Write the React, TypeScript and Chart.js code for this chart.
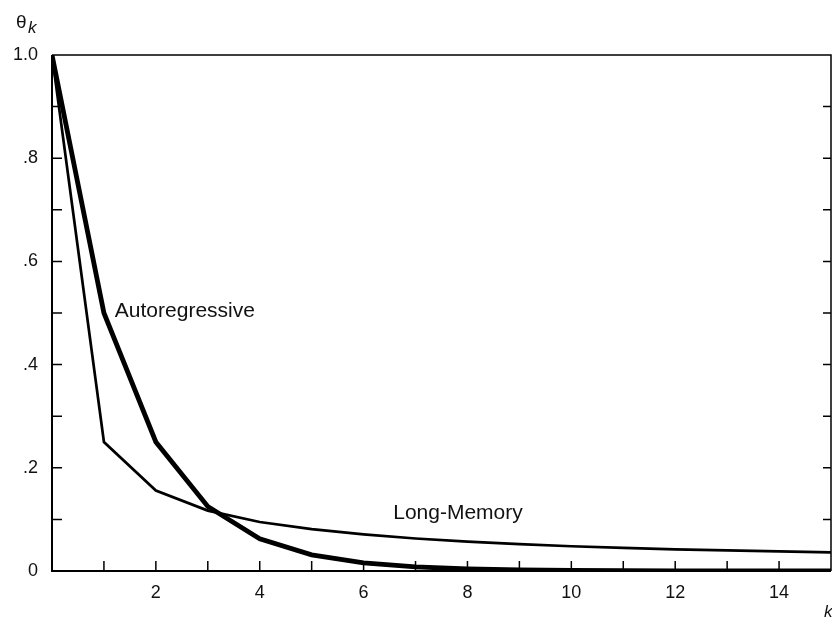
import React, { useEffect, useRef } from "react";
import { Chart, registerables } from "chart.js";

Chart.register(...registerables);

const lags = [0, 1, 2, 3, 4, 5, 6, 7, 8, 9, 10, 11, 12, 13, 14, 15];
const autoregressive = [1, 0.5, 0.25, 0.125, 0.0625, 0.0313, 0.0156, 0.0078, 0.0039, 0.002, 0.001, 0.0005, 0.0002, 0.0001, 0.0001, 0];
const longMemory = [1, 0.25, 0.156, 0.117, 0.095, 0.081, 0.071, 0.063, 0.057, 0.052, 0.048, 0.045, 0.042, 0.04, 0.038, 0.036];
const yTickLabels: Record<string, string> = { "0": "0", "0.2": ".2", "0.4": ".4", "0.6": ".6", "0.8": ".8", "1": "1.0" };
const xTickLabels = [2, 4, 6, 8, 10, 12, 14];
const seriesLabels = [
  { text: "Autoregressive", x: 1.21, y: 0.493 },
  { text: "Long-Memory", x: 6.57, y: 0.1 },
];

const FONT = "'Liberation Sans', Arial, Helvetica, sans-serif";

const framePlugin = {
  id: "frameTicks",
  afterDatasetsDraw(chart: any) {
    const { ctx, chartArea, scales } = chart;
    const { left, right, top, bottom } = chartArea;
    const xs = scales.x;
    const ys = scales.y;
    ctx.save();
    ctx.strokeStyle = "#000";
    ctx.lineCap = "butt";
    ctx.lineWidth = 1.5;
    ctx.beginPath();
    ctx.moveTo(left, top);
    ctx.lineTo(right, top);
    ctx.lineTo(right, bottom);
    ctx.stroke();
    ctx.lineWidth = 2;
    ctx.beginPath();
    ctx.moveTo(left, top);
    ctx.lineTo(left, bottom);
    ctx.lineTo(right, bottom);
    ctx.stroke();
    ctx.lineWidth = 1.5;
    ctx.beginPath();
    for (let k = 1; k < 15; k++) {
      const px = xs.getPixelForValue(k);
      ctx.moveTo(px, bottom);
      ctx.lineTo(px, bottom - 10);
    }
    for (let i = 1; i < 10; i++) {
      const py = ys.getPixelForValue(i / 10);
      ctx.moveTo(left, py);
      ctx.lineTo(left + 10, py);
      ctx.moveTo(right, py);
      ctx.lineTo(right - 8, py);
    }
    ctx.stroke();
    ctx.fillStyle = "#111";
    ctx.font = `21px ${FONT}`;
    ctx.textAlign = "left";
    ctx.textBaseline = "alphabetic";
    for (const l of seriesLabels) {
      ctx.fillText(l.text, xs.getPixelForValue(l.x), ys.getPixelForValue(l.y));
    }
    ctx.font = `19px ${FONT}`;
    ctx.fillText("\u03B8", 16, 28);
    ctx.font = `italic 17px ${FONT}`;
    ctx.fillText("k", 28, 33);
    ctx.fillText("k", 824, 617);
    ctx.restore();
  },
};

export default function App() {
  const ref = useRef<HTMLCanvasElement>(null);
  useEffect(() => {
    document.body.style.margin = "0";
    document.body.style.background = "#fff";
    const chart = new Chart(ref.current as HTMLCanvasElement, {
      type: "line",
      data: {
        labels: lags,
        datasets: [
          {
            label: "Autoregressive",
            data: lags.map((k, i) => ({ x: k, y: autoregressive[i] })),
            borderColor: "#000",
            borderWidth: 4.8,
            pointRadius: 0,
            tension: 0,
          },
          {
            label: "Long-Memory",
            data: lags.map((k, i) => ({ x: k, y: longMemory[i] })),
            borderColor: "#000",
            borderWidth: 2.7,
            pointRadius: 0,
            tension: 0,
          },
        ],
      },
      options: {
        animation: false,
        responsive: false,
        layout: { padding: { top: 55, right: 1, left: 0, bottom: 0 } },
        plugins: { legend: { display: false }, tooltip: { enabled: false } },
        scales: {
          x: {
            type: "linear",
            min: 0,
            max: 15,
            grid: { display: false, drawTicks: false },
            border: { display: false },
            afterFit: (s: any) => {
              s.height = 46;
              s.paddingLeft = 0;
              s.paddingRight = 0;
            },
            ticks: {
              stepSize: 1,
              autoSkip: false,
              maxRotation: 0,
              padding: 11,
              color: "#111",
              font: { family: FONT, size: 18 },
              callback: (v: any) => (xTickLabels.includes(Number(v)) ? String(v) : ""),
            },
          },
          y: {
            min: 0,
            max: 1,
            grid: { display: false, drawTicks: false },
            border: { display: false },
            afterFit: (s: any) => {
              s.width = 52;
            },
            ticks: {
              stepSize: 0.1,
              autoSkip: false,
              padding: 14,
              color: "#111",
              font: { family: FONT, size: 18 },
              callback: (v: any) => {
                const key = String(Math.round(Number(v) * 10) / 10);
                return yTickLabels[key] ?? "";
              },
            },
          },
        },
      },
      plugins: [framePlugin],
    });
    return () => chart.destroy();
  }, []);
  return <canvas ref={ref} width={832} height={617} style={{ display: "block" }} />;
}
